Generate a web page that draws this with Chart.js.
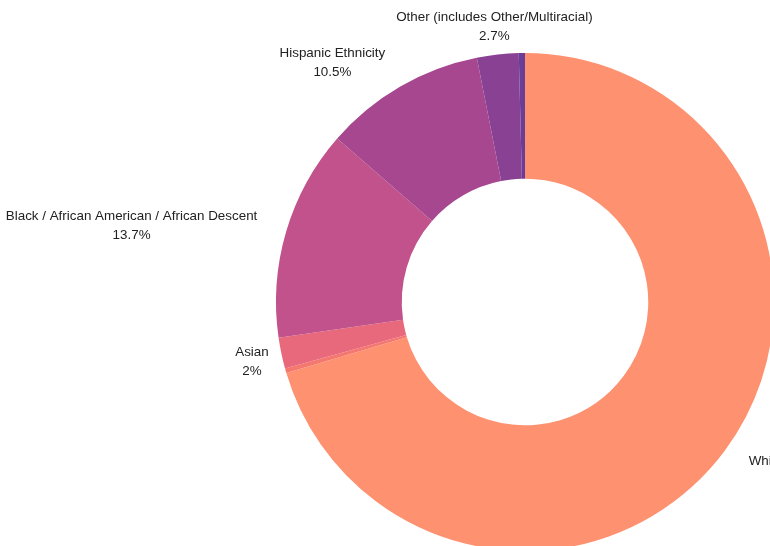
<!DOCTYPE html>
<html>
<head>
<meta charset="utf-8">
<script src="https://cdn.jsdelivr.net/npm/chart.js@4"></script>
<style>
  html, body { margin: 0; padding: 0; background: #fff; overflow: hidden; }
  #wrap { position: absolute; left: 0; top: 0; width: 1050px; height: 604px; }
</style>
</head>
<body>
<div id="wrap"><canvas id="chart"></canvas></div>
<script>
// data
const categories = [
  'White / European American',
  'American Indian / Alaska Native',
  'Asian',
  'Black / African American / African Descent',
  'Hispanic Ethnicity',
  'Other (includes Other/Multiracial)',
  'Native Hawaiian / Pacific Islander',
];
const shares = [70.4, 0.3, 2, 13.7, 10.5, 2.7, 0.4];

// styles
const sliceColors = ['#fe9170', '#f5786f', '#e8687c', '#c1528b', '#a6478f', '#894293', '#6a3e96'];
const labelAlign = ['left', null, 'center', 'right', 'right', 'center', null];

const outLabels = {
  id: 'outLabels',
  afterDatasetsDraw(chart) {
    const ctx = chart.ctx;
    const arcs = chart.getDatasetMeta(0).data;
    ctx.save();
    ctx.font = '13.4px "Liberation Sans", Arial, sans-serif';
    ctx.fillStyle = '#222';
    ctx.textBaseline = 'middle';
    ctx.textAlign = 'center';
    arcs.forEach((arc, i) => {
      const align = labelAlign[i];
      if (!align) return;
      const mid = (arc.startAngle + arc.endAngle) / 2;
      const r = arc.outerRadius + 30;
      const ax = arc.x + Math.cos(mid) * r;
      const ay = arc.y + Math.sin(mid) * r + 2;
      const lines = [categories[i], shares[i] + '%'];
      const w = Math.max(...lines.map(l => ctx.measureText(l).width));
      let cx = ax;
      if (align === 'left') cx = ax + w / 2;
      if (align === 'right') cx = ax - w / 2;
      const lh = 19;
      lines.forEach((l, k) => {
        ctx.fillText(l, cx, ay + (k - (lines.length - 1) / 2) * lh);
      });
    });
    ctx.restore();
  }
};

new Chart(document.getElementById('chart'), {
  type: 'doughnut',
  data: {
    labels: categories,
    datasets: [{
      data: shares,
      backgroundColor: sliceColors,
      borderWidth: 0,
    }],
  },
  options: {
    responsive: true,
    maintainAspectRatio: false,
    animation: false,
    cutout: '49.5%',
    layout: { padding: { top: 53, bottom: 53 } },
    plugins: {
      legend: { display: false },
      tooltip: { enabled: false },
    },
  },
  plugins: [outLabels],
});
</script>
</body>
</html>
